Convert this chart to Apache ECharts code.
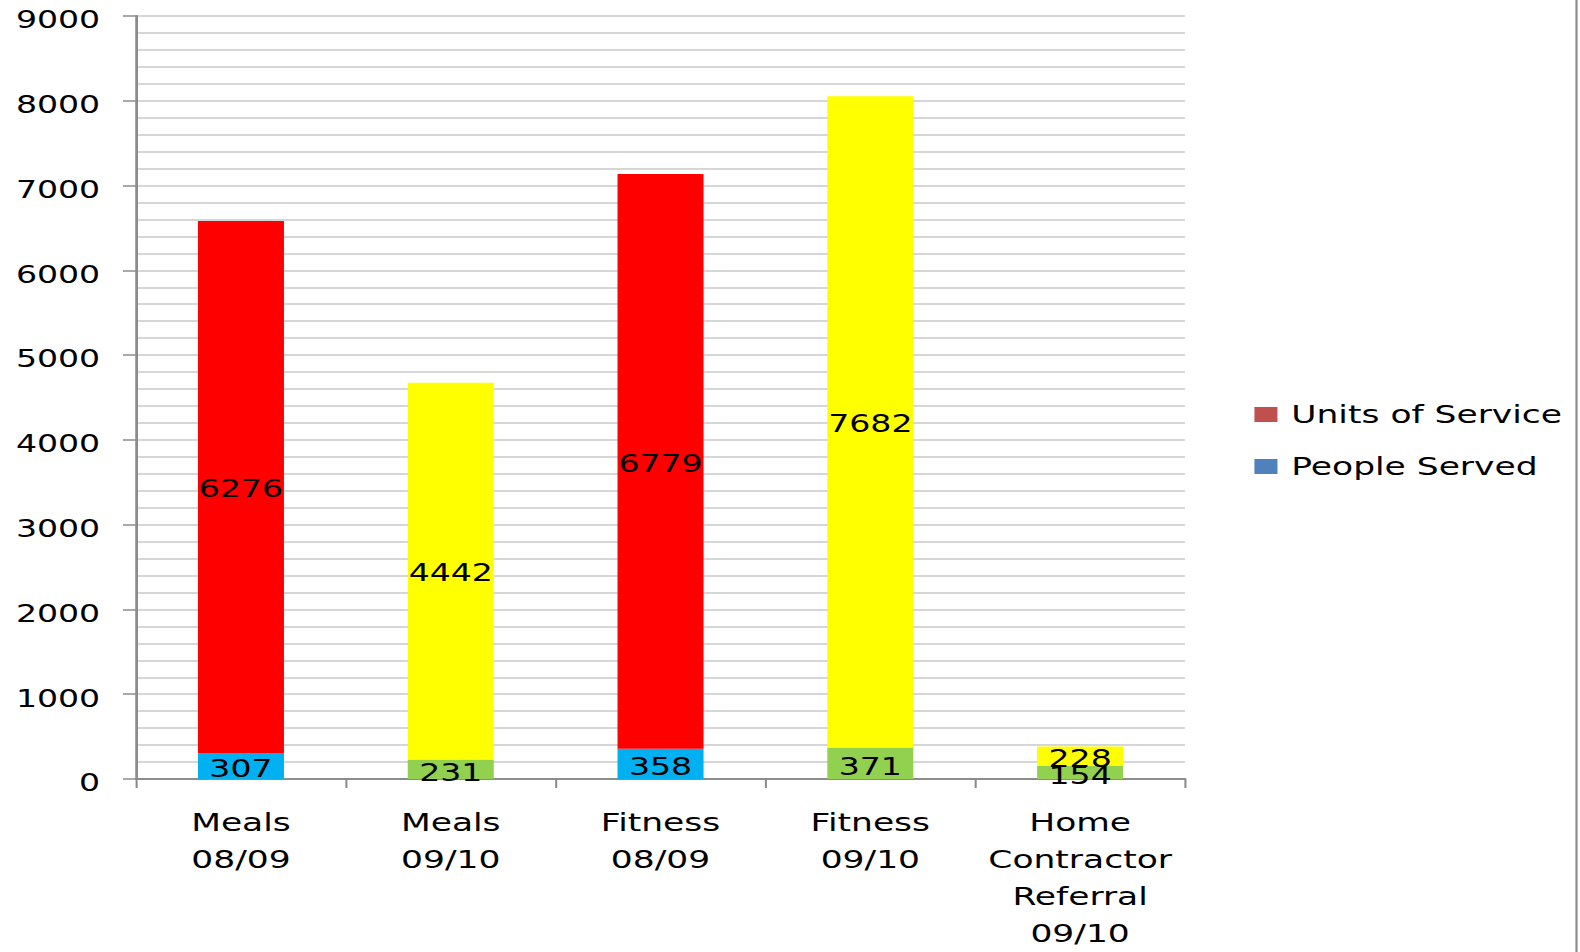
<!DOCTYPE html>
<html>
<head>
<meta charset="utf-8">
<title>Units of Service and People Served</title>
<script src="https://cdn.jsdelivr.net/npm/echarts@6/dist/echarts.min.js"></script>
<style>
  html, body { margin: 0; padding: 0; background: #fff; overflow: hidden; }
  /* The chart is laid out on a narrower canvas and widened horizontally,
     giving the broad, stretched lettering of the original slide graphic. */
  #chart {
    width: 1145px;
    height: 952px;
    transform: scaleX(1.38);
    transform-origin: 0 0;
  }
</style>
</head>
<body>
<div id="chart"></div>
<script>
// Programme categories (x axis)
const categories = [
  'Meals\n08/09',
  'Meals\n09/10',
  'Fitness\n08/09',
  'Fitness\n09/10',
  'Home\nContractor\nReferral\n09/10'
];

// Stacked values: people served at the base, units of service on top
const peopleServed   = [307, 231, 358, 371, 154];
const unitsOfService = [6276, 4442, 6779, 7682, 228];

// Fill per bar: 08/09 years in blue/red, 09/10 years in green/yellow
const peopleColors = ['#00B0F0', '#92D050', '#00B0F0', '#92D050', '#92D050'];
const unitsColors  = ['#FF0000', '#FFFF00', '#FF0000', '#FFFF00', '#FFFF00'];

// Y axis range and tick step
const yMin = 0;
const yMax = 9000;
const yStep = 1000;

const FONT = 'DejaVu Sans';

const chart = echarts.init(document.getElementById('chart'), null, { renderer: 'svg' });

const labelStyle = {
  show: true,
  position: 'inside',
  color: '#000',
  fontFamily: FONT,
  fontSize: 24
};

chart.setOption({
  animation: false,
  backgroundColor: '#fff',
  textStyle: { fontFamily: FONT },
  grid: { left: 98.6, right: 286.3, top: 16, bottom: 170 },
  legend: {
    orient: 'vertical',
    left: 909,
    top: 402,
    padding: 0,
    itemWidth: 16.7,
    itemHeight: 15,
    itemGap: 27,
    icon: 'rect',
    data: ['Units of Service', 'People Served'],
    textStyle: { color: '#000', fontFamily: FONT, fontSize: 25, padding: [0, 0, 0, 5] }
  },
  xAxis: {
    type: 'category',
    data: categories,
    axisLine: { show: true, lineStyle: { color: '#8c8c8c', width: 2 } },
    axisTick: { show: true, length: 9, lineStyle: { color: '#8c8c8c', width: 1.5 } },
    axisLabel: {
      color: '#000',
      fontFamily: FONT,
      fontSize: 25,
      lineHeight: 37,
      margin: 25,
      interval: 0
    },
    splitLine: { show: false }
  },
  yAxis: {
    type: 'value',
    min: yMin,
    max: yMax,
    interval: yStep,
    axisLine: { show: true, lineStyle: { color: '#8c8c8c', width: 2 } },
    axisTick: { show: true, length: 9.5, lineStyle: { color: '#8c8c8c', width: 1.5 } },
    axisLabel: {
      color: '#000',
      fontFamily: FONT,
      fontSize: 24,
      margin: 26,
      // sit the numbers a little below their grid line
      verticalAlign: 'top',
      lineHeight: 8,
      formatter: (v) => String(v)
    },
    splitLine: { show: true, lineStyle: { color: '#c8c8c8', width: 1.5 } },
    minorTick: { show: false, splitNumber: 5 },
    minorSplitLine: { show: true, lineStyle: { color: '#c8c8c8', width: 1.5 } }
  },
  series: [
    {
      name: 'People Served',
      type: 'bar',
      stack: 'total',
      barWidth: '41%',
      itemStyle: { color: '#4F81BD' },
      label: Object.assign({}, labelStyle, { offset: [0, 3] }),
      data: peopleServed.map((v, i) => ({ value: v, itemStyle: { color: peopleColors[i] } }))
    },
    {
      name: 'Units of Service',
      type: 'bar',
      stack: 'total',
      barWidth: '41%',
      itemStyle: { color: '#C0504D' },
      label: Object.assign({}, labelStyle, { offset: [0, 2] }),
      data: unitsOfService.map((v, i) => ({ value: v, itemStyle: { color: unitsColors[i] } }))
    }
  ],
  graphic: [
    {
      // frame edge on the right side of the chart area
      type: 'rect',
      shape: { x: 1141.6, y: 0, width: 1.6, height: 952 },
      style: { fill: '#8c8c8c' },
      silent: true
    }
  ]
});
</script>
</body>
</html>
